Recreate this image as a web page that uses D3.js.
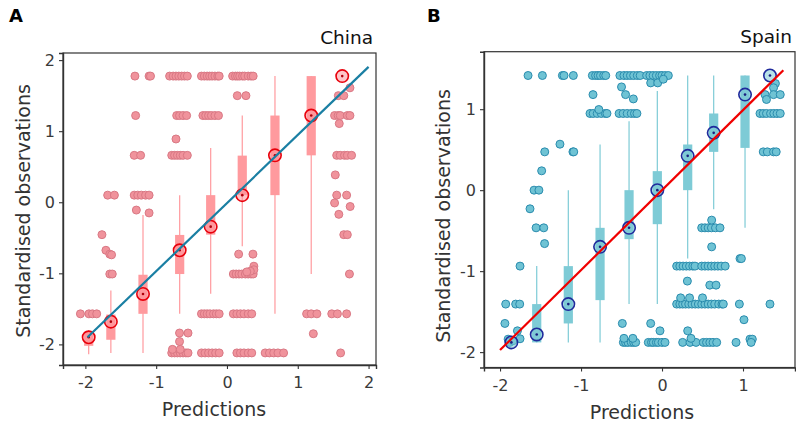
<!DOCTYPE html>
<html><head><meta charset="utf-8">
<script src="https://cdn.jsdelivr.net/npm/d3@7"></script>
<style>
html,body{margin:0;padding:0;background:#fff;}
svg{display:block;font-family:"DejaVu Sans",sans-serif;}
</style></head>
<body>
<svg id="chart" width="796" height="425"></svg>
<script>
// ---------- Panel A : China ----------
const chinaXTicks = [-2, -1, 0, 1, 2];
const chinaYTicks = [-2, -1, 0, 1, 2];
const chinaBinX   = [-1.953, -1.64, -1.186, -0.668, -0.23, 0.216, 0.678, 1.19, 1.628];
const chinaQ1     = [-2.02, -1.935, -1.57, -1.01, -0.456, 0.10, 0.10, 0.66, 1.775];
const chinaQ3     = [-1.82, -1.58, -1.02, -0.46, 0.10, 0.656, 1.22, 1.775, 1.775];
const chinaWLo    = [-2.14, -2.12, -2.12, -1.57, -1.287, -0.62, -1.57, -1.01, 1.775];
const chinaWHi    = [-1.80, -1.24, -0.18, 0.10, 0.765, 1.22, 1.775, 1.775, 1.775];
const chinaMean   = [-1.90, -1.68, -1.29, -0.676, -0.343, 0.10, 0.66, 1.22, 1.775];
const chinaFitX   = [-1.97, 2.0];
const chinaFitY   = [-1.90, 1.905];
const chinaPoints = [
  [-1.30,1.775],[-1.10,1.775],[-1.08,1.775],
  [-0.81,1.775],[-0.76,1.775],[-0.72,1.775],[-0.68,1.775],[-0.64,1.775],[-0.60,1.775],[-0.56,1.775],
  [-0.36,1.775],[-0.32,1.775],[-0.28,1.775],[-0.245,1.775],[-0.21,1.775],[-0.17,1.775],[-0.13,1.775],[-0.11,1.775],
  [0.08,1.775],[0.12,1.775],[0.15,1.775],[0.18,1.775],[0.22,1.775],[0.25,1.775],[0.30,1.775],[0.34,1.775],[0.37,1.775],
  [0.146,1.50],[0.268,1.50],[1.573,1.50],[1.65,1.50],[1.737,1.61],
  [-1.29,1.22],[-0.71,1.22],[-0.67,1.22],[-0.62,1.22],[-0.57,1.22],
  [-0.34,1.22],[-0.30,1.22],[-0.26,1.22],[-0.22,1.22],[-0.17,1.22],[-0.12,1.22],
  [1.52,1.22],[1.57,1.22],[1.60,1.22],[1.70,1.22],[1.737,1.22],[1.586,1.107],
  [-0.72,0.89],
  [-1.31,0.66],[-1.22,0.66],[-0.78,0.66],[-0.74,0.66],[-0.70,0.66],[-0.66,0.66],[-0.62,0.66],[-0.56,0.66],
  [1.55,0.66],[1.60,0.66],[1.66,0.66],[1.70,0.66],[1.76,0.66],
  [1.53,0.385],[1.55,0.10],[1.69,0.10],[1.52,-0.01],[1.74,-0.06],[1.58,-0.17],[1.65,-0.456],[1.70,-0.456],
  [1.73,-1.01],[1.48,-1.57],[1.56,-1.57],[1.69,-1.57],[1.605,-2.12],
  [-1.685,0.10],[-1.59,0.10],[-1.31,0.10],[-1.26,0.10],[-1.21,0.10],[-1.15,0.10],[-1.10,0.10],
  [-1.28,-0.11],[-1.10,-0.15],
  [-1.766,-0.456],[-1.71,-0.676],[-1.655,-0.73],[-1.63,-0.74],[-1.655,-1.01],[-1.62,-1.01],
  [-2.07,-1.57],[-1.95,-1.57],[-1.90,-1.57],[-1.84,-1.57],
  [-0.36,-1.57],[-0.32,-1.57],[-0.28,-1.57],[-0.24,-1.57],[-0.19,-1.57],[-0.15,-1.57],[-0.11,-1.57],
  [0.09,-1.57],[0.14,-1.57],[0.19,-1.57],[0.24,-1.57],[0.30,-1.57],[0.35,-1.57],
  [1.125,-1.57],[1.19,-1.57],[1.27,-1.57],[1.22,-1.85],
  [0.09,-1.01],[0.13,-1.01],[0.17,-1.01],[0.21,-1.01],[0.26,-1.01],[0.30,-1.01],[0.34,-1.01],[0.37,-1.01],
  [0.38,-0.90],[0.38,-0.95],[0.33,-0.97],[0.28,-0.98],[0.165,-0.73],[0.367,-0.73],
  [-0.78,-2.12],[-0.74,-2.12],[-0.70,-2.12],[-0.66,-2.12],[-0.62,-2.12],[-0.58,-2.12],[-0.55,-2.12],
  [-0.77,-2.07],[-0.67,-1.96],[-0.67,-1.84],[-0.55,-1.84],[-0.66,-2.07],
  [-0.36,-2.12],[-0.31,-2.12],[-0.26,-2.12],[-0.21,-2.12],[-0.16,-2.12],[-0.11,-2.12],
  [0.14,-2.12],[0.19,-2.12],[0.24,-2.12],[0.30,-2.12],[0.35,-2.12],
  [0.54,-2.12],[0.60,-2.12],[0.66,-2.12],[0.72,-2.12],[0.80,-2.12]
];

// ---------- Panel B : Spain ----------
const spainXTicks = [-2, -1, 0, 1];
const spainYTicks = [-2, -1, 0, 1];
const spainBinX   = [-1.86, -1.547, -1.157, -0.765, -0.407, -0.058, 0.317, 0.638, 1.025, 1.333];
const spainQ1     = [-1.88, -1.88, -1.646, -1.358, -0.605, -0.42, 0.0, 0.473, 0.522, 1.416];
const spainQ3     = [-1.84, -1.407, -0.938, -0.465, 0.0, 0.235, 0.564, 0.947, 1.416, 1.416];
const spainWLo    = [-1.88, -1.88, -1.88, -1.88, -1.407, -1.407, -0.845, -0.235, -0.465, 1.416];
const spainWHi    = [-1.84, -0.938, 0.0, 0.564, 0.852, 1.226, 1.416, 1.416, 1.416, 1.416];
const spainMean   = [-1.88, -1.782, -1.407, -0.70, -0.465, 0.0, 0.424, 0.708, 1.18, 1.416];
const spainFitX   = [-2.0, 1.498];
const spainFitY   = [-1.975, 1.48];
const spainPoints = [
  [-1.654,1.416],[-1.477,1.416],[-1.23,1.416],[-1.21,1.416],[-1.095,1.416],
  [-0.86,1.416],[-0.82,1.416],[-0.79,1.416],[-0.76,1.416],[-0.72,1.416],[-0.695,1.416],
  [-0.52,1.416],[-0.47,1.416],[-0.43,1.416],[-0.39,1.416],[-0.35,1.416],[-0.305,1.416],
  [-0.27,1.416],[-0.19,1.416],[-0.15,1.416],[-0.11,1.416],[-0.07,1.416],[-0.03,1.416],[0.0,1.416],[0.04,1.416],[0.078,1.416],
  [-0.14,1.325],[-0.053,1.325],[0.016,1.37],
  [-0.852,1.18],[-0.50,1.275],[-0.45,1.18],[-0.354,1.127],
  [-0.889,0.947],[-0.85,0.947],[-0.80,0.947],[-0.75,0.947],[-0.70,0.947],[-0.68,0.947],[-0.78,0.996],
  [-0.53,0.947],[-0.48,0.947],[-0.43,0.947],[-0.38,0.947],[-0.34,0.947],[-0.31,0.947],
  [1.40,1.317],[1.377,1.265],[1.272,1.18],[1.377,1.18],[1.46,1.18],[1.29,1.12],
  [1.21,0.947],[1.25,0.947],[1.29,0.947],[1.34,0.947],[1.38,0.947],[1.42,0.947],[1.46,0.947],
  [1.25,0.473],[1.30,0.473],[1.377,0.473],[1.41,0.473],
  [-1.448,0.473],[-1.26,0.568],[-1.10,0.473],[-1.09,0.473],[-1.486,0.239],[-1.58,0.0],[-1.52,0.0],
  [-1.63,-0.23],[-1.555,-0.465],[-1.46,-0.465],[-1.45,-0.66],[-1.753,-0.938],
  [-1.93,-1.407],[-1.807,-1.407],[-1.757,-1.407],[-1.94,-1.646],[-1.785,-1.737],[-1.753,-1.835],
  [-1.90,-1.84],[-1.88,-1.88],[-1.84,-1.86],
  [-0.49,-1.646],[-0.477,-1.88],[-0.45,-1.88],[-0.42,-1.88],[-0.38,-1.88],[-0.35,-1.88],[-0.325,-1.88],
  [-0.47,-1.83],[-0.36,-1.83],
  [-0.169,-1.88],[-0.13,-1.88],[-0.107,-1.88],[-0.07,-1.88],[-0.045,-1.88],[0.0,-1.88],[0.037,-1.88],
  [-0.14,-1.646],[-0.025,-1.737],
  [0.255,-1.88],[0.346,-1.88],[0.42,-1.88],[0.317,-1.737],[0.358,-1.83],
  [0.181,-1.407],[0.22,-1.407],[0.255,-1.407],[0.29,-1.407],[0.33,-1.407],[0.37,-1.407],[0.41,-1.407],[0.449,-1.407],
  [0.23,-1.33],[0.34,-1.33],[0.313,-1.123],
  [0.181,-0.938],[0.22,-0.938],[0.26,-0.938],[0.30,-0.938],[0.34,-0.938],[0.38,-0.938],[0.407,-0.938],
  [0.51,-1.88],[0.55,-1.88],[0.59,-1.88],[0.63,-1.88],[0.675,-1.88],
  [0.49,-1.407],[0.53,-1.407],[0.57,-1.407],[0.61,-1.407],[0.65,-1.407],[0.70,-1.407],[0.74,-1.407],[0.757,-1.407],
  [0.50,-1.33],[0.59,-1.173],[0.667,-1.173],
  [0.49,-0.938],[0.53,-0.938],[0.57,-0.938],[0.61,-0.938],[0.65,-0.938],[0.69,-0.938],[0.73,-0.938],[0.78,-0.938],
  [0.613,-0.70],
  [0.49,-0.465],[0.53,-0.465],[0.57,-0.465],[0.61,-0.465],[0.66,-0.465],[0.716,-0.465],[0.613,-0.37],
  [0.963,-0.845],[0.98,-0.845],[0.955,-1.407],[1.012,-1.6],[0.914,-1.88],[1.086,-1.84],[1.115,-1.84],[1.10,-1.88],
  [1.333,-1.407]
];

const svg = d3.select("#chart");

function panel(cfg) {
  const x = d3.scaleLinear().domain(cfg.xDomain).range([cfg.left, cfg.right]);
  const y = d3.scaleLinear().domain(cfg.yDomain).range([cfg.bottom, cfg.top]);
  const g = svg.append("g");

  // scatter points
  g.append("g").selectAll("circle").data(cfg.points).join("circle")
    .attr("cx", d => x(d[0])).attr("cy", d => y(d[1])).attr("r", 4)
    .attr("fill", cfg.ptFill).attr("stroke", cfg.ptStroke).attr("stroke-width", 1);

  // boxplots
  const bins = cfg.binX.map((bx, i) => ({x: bx, q1: cfg.q1[i], q3: cfg.q3[i], lo: cfg.wlo[i], hi: cfg.whi[i], m: cfg.mean[i]}));
  const bg = g.append("g");
  bg.selectAll("line.wh").data(bins).join("line").attr("class", "wh")
    .attr("x1", d => x(d.x)).attr("x2", d => x(d.x))
    .attr("y1", d => y(d.lo)).attr("y2", d => y(d.hi))
    .attr("stroke", cfg.boxFill).attr("stroke-width", 1.2);
  bg.selectAll("rect").data(bins.filter(d => d.q3 > d.q1)).join("rect")
    .attr("x", d => x(d.x) - 4.6).attr("width", 9.2)
    .attr("y", d => y(d.q3)).attr("height", d => y(d.q1) - y(d.q3))
    .attr("fill", cfg.boxFill);

  // means
  const mg = g.append("g");
  mg.selectAll("circle.ring").data(bins).join("circle").attr("class", "ring")
    .attr("cx", d => x(d.x)).attr("cy", d => y(d.m)).attr("r", 6.2)
    .attr("fill", cfg.meanFill).attr("stroke", cfg.meanStroke).attr("stroke-width", 1.6);
  mg.selectAll("circle.dot").data(bins).join("circle").attr("class", "dot")
    .attr("cx", d => x(d.x)).attr("cy", d => y(d.m)).attr("r", 1.3)
    .attr("fill", cfg.meanDot);

  // fit line
  g.append("line")
    .attr("x1", x(cfg.fitX[0])).attr("y1", y(cfg.fitY[0]))
    .attr("x2", x(cfg.fitX[1])).attr("y2", y(cfg.fitY[1]))
    .attr("stroke", cfg.lineColor).attr("stroke-width", 2.2);

  // frame
  g.append("rect").attr("x", cfg.left).attr("y", cfg.top)
    .attr("width", cfg.right - cfg.left).attr("height", cfg.bottom - cfg.top)
    .attr("fill", "none").attr("stroke", "#333").attr("stroke-width", 1.2);

  // axes
  const xa = g.append("g").attr("transform", `translate(0,${cfg.bottom})`)
    .call(d3.axisBottom(x).tickValues(cfg.xTicks).tickFormat(d3.format("d")).tickSize(4).tickPadding(8));
  const ya = g.append("g").attr("transform", `translate(${cfg.left},0)`)
    .call(d3.axisLeft(y).tickValues(cfg.yTicks).tickFormat(d3.format("d")).tickSize(4).tickPadding(4));
  [xa, ya].forEach(a => {
    a.select(".domain").attr("stroke", "#333").attr("stroke-width", 1.4);
    a.selectAll(".tick line").attr("stroke", "#333").attr("stroke-width", 1.1);
    a.selectAll(".tick text").attr("fill", "#3a3a3a").style("font-size", "16px")
      .style("font-family", "DejaVu Sans, sans-serif")
      .text(d => (d < 0 ? "-" : "") + Math.abs(d));
  });

  // titles
  g.append("text").attr("x", cfg.right - 3).attr("y", cfg.top - 9)
    .attr("text-anchor", "end").attr("fill", "#111").style("font-size", "18.5px").text(cfg.title);
  g.append("text").attr("x", cfg.xLabelX).attr("y", cfg.bottom + 51)
    .attr("text-anchor", "middle").attr("fill", "#333").style("font-size", "19px").text("Predictions");
  g.append("text").attr("transform", `translate(${cfg.yLabelX},${cfg.yLabelY}) rotate(-90)`)
    .attr("text-anchor", "middle").attr("fill", "#333").style("font-size", "19px").text("Standardised observations");
  g.append("text").attr("x", cfg.tagX).attr("y", cfg.tagY)
    .attr("fill", "#000").style("font-size", "18px").style("font-weight", "bold").text(cfg.tag);
}

panel({
  left: 63, right: 376, top: 53, bottom: 365,
  xDomain: [-2.316, 2.105], yDomain: [-2.29, 2.10],
  xTicks: chinaXTicks, yTicks: chinaYTicks,
  points: chinaPoints, binX: chinaBinX, q1: chinaQ1, q3: chinaQ3, wlo: chinaWLo, whi: chinaWHi, mean: chinaMean,
  fitX: chinaFitX, fitY: chinaFitY,
  ptFill: "#f0939c", ptStroke: "#d97884", boxFill: "#ff9a9e",
  meanFill: "rgba(255,150,155,0.55)", meanStroke: "#e8000b", meanDot: "#b0000a",
  lineColor: "#1a7fa3",
  title: "China", xLabelX: 214, yLabelX: 30, yLabelY: 211, tag: "A", tagX: 9, tagY: 22
});

panel({
  left: 484, right: 795, top: 51.7, bottom: 367.5,
  xDomain: [-2.198, 1.642], yDomain: [-2.19, 1.71],
  xTicks: spainXTicks, yTicks: spainYTicks,
  points: spainPoints, binX: spainBinX, q1: spainQ1, q3: spainQ3, wlo: spainWLo, whi: spainWHi, mean: spainMean,
  fitX: spainFitX, fitY: spainFitY,
  ptFill: "#6fc3d4", ptStroke: "#2a8cae", boxFill: "#7ecbd6",
  meanFill: "rgba(126,203,214,0.55)", meanStroke: "#1f2a9c", meanDot: "#1a1f80",
  lineColor: "#f00000",
  title: "Spain", xLabelX: 642, yLabelX: 450, yLabelY: 216, tag: "B", tagX: 427, tagY: 22
});
</script>
</body></html>
